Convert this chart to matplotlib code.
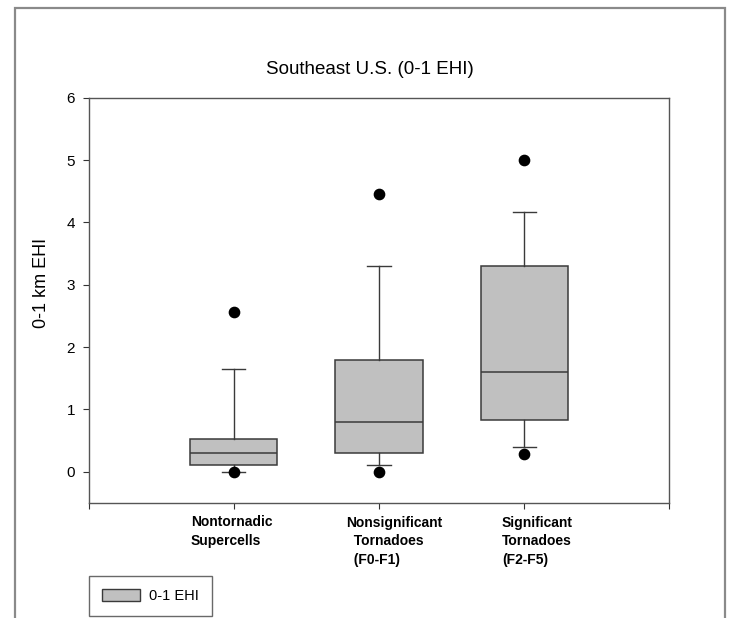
"""
东南部 0-1 km EHI 箱线图：无龙卷超级单体 / 弱龙卷 / 强龙卷
"""
import matplotlib
matplotlib.use("Agg")
import matplotlib.pyplot as plt
from matplotlib.patches import Patch, Rectangle

plt.rcParams["font.family"] = ["Liberation Sans", "DejaVu Sans"]

# 各类别的箱线统计量（四分位、须、离群点）
categories = ["Nontornadic\nSupercells",
              "Nonsignificant\n  Tornadoes\n  (F0-F1)",
              "Significant\nTornadoes\n(F2-F5)"]
q1 = [0.11, 0.30, 0.83]
median = [0.30, 0.80, 1.60]
q3 = [0.53, 1.79, 3.30]
whisker_low = [0.00, 0.11, 0.40]
whisker_high = [1.65, 3.30, 4.16]
outliers = [[0.00, 2.57], [0.00, 4.46], [0.28, 5.00]]

y_ticks = [0, 1, 2, 3, 4, 5, 6]


def build_stats():
    stats = []
    for i, label in enumerate(categories):
        stats.append({
            "label": label,
            "q1": q1[i],
            "med": median[i],
            "q3": q3[i],
            "whislo": whisker_low[i],
            "whishi": whisker_high[i],
            "fliers": outliers[i],
        })
    return stats


def plot_box(output_path):
    W, H = 731, 618
    fig = plt.figure(figsize=(W / 100, H / 100), dpi=100)

    # 绘图区位置（像素换算成 figure 坐标）
    left, right, top, bottom = 88.7, 669.3, 97.7, 503.0
    ax = fig.add_axes([left / W, 1 - bottom / H, (right - left) / W, (bottom - top) / H])

    box_color = "#C0C0C0"
    edge = "#3a3a3a"
    positions = [1, 2, 3]
    ax.bxp(
        build_stats(),
        positions=positions,
        widths=0.6,
        capwidths=0.16,
        patch_artist=True,
        boxprops=dict(facecolor=box_color, edgecolor=edge, linewidth=1.1),
        medianprops=dict(color=edge, linewidth=1.1),
        whiskerprops=dict(color=edge, linewidth=1.0),
        capprops=dict(color=edge, linewidth=1.0),
        flierprops=dict(marker="o", markerfacecolor="black", markeredgecolor="black",
                        markersize=7.4, linestyle="none"),
    )

    ax.set_xlim(0, 4)
    ax.set_ylim(-0.5, 6)
    ax.set_yticks(y_ticks)
    ax.set_xticks([0, 1, 2, 3, 4])
    ax.set_xticklabels([])
    ax.tick_params(axis="y", direction="out", length=4.3, width=0.8, pad=5.5,
                   labelsize=11, color="#333333")
    ax.tick_params(axis="x", direction="out", length=4.3, width=0.8, color="#333333")
    for s in ax.spines.values():
        s.set_color("#555555")
        s.set_linewidth(1.0)

    ax.set_ylabel("0-1 km EHI", fontsize=13)
    ax.yaxis.set_label_coords(-0.066, 0.543)

    # x 轴类别标签（左对齐，多行）
    label_x = [191, 346, 502]
    for lx, text in zip(label_x, categories):
        fig.text(lx / W, 1 - 515.5 / H, text, ha="left", va="top",
                 fontsize=10, fontweight="bold", linespacing=1.45)

    fig.text(370 / W, 1 - 70 / H, "Southeast U.S. (0-1 EHI)", ha="center", va="center",
             fontsize=13.5)

    # 图例
    handle = Patch(facecolor=box_color, edgecolor=edge, linewidth=1.0, label="0-1 EHI")
    leg = fig.legend(
        handles=[handle],
        loc="upper left",
        bbox_to_anchor=(88.7 / W, 1 - 576 / H),
        bbox_transform=fig.transFigure,
        borderaxespad=0,
        fancybox=False,
        edgecolor="#444444",
        fontsize=10.5,
        handlelength=2.6,
        handleheight=0.8,
        handletextpad=0.65,
        borderpad=0.9,
    )
    leg.get_frame().set_linewidth(1.0)

    # 外框
    border = Rectangle((15 / W, -0.05), (725 - 15) / W, 1.05 - 7.5 / H,
                       transform=fig.transFigure, fill=False,
                       edgecolor="#8a8a8a", linewidth=1.6, clip_on=False)
    fig.patches.append(border)

    fig.savefig(output_path, dpi=100)
    plt.close(fig)


def main():
    plot_box("out.png")


if __name__ == "__main__":
    main()
